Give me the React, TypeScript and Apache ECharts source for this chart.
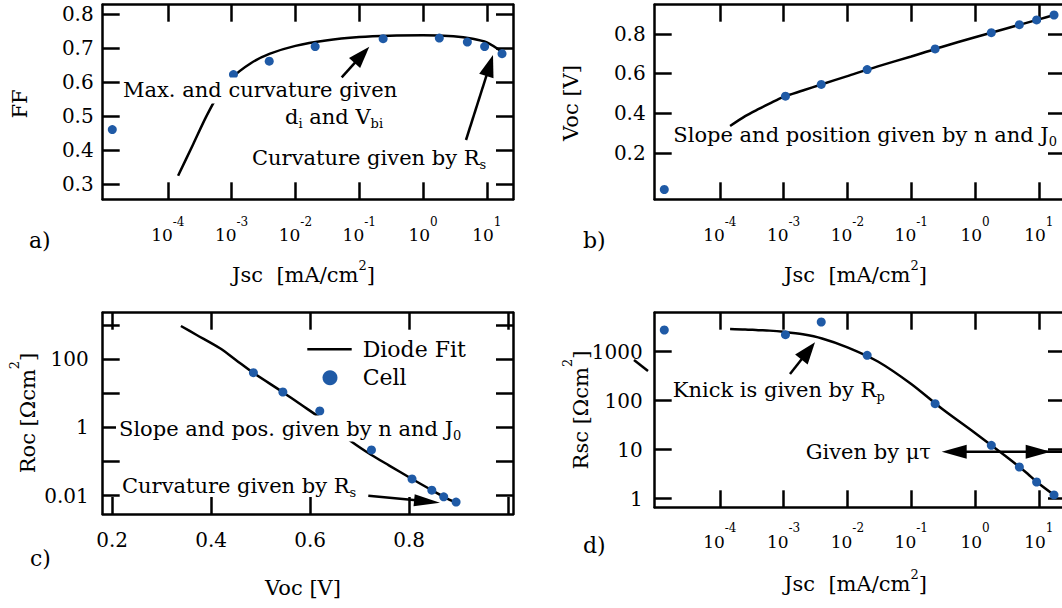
import React, { useEffect, useRef } from 'react';
import * as echarts from 'echarts';

// ---- measured cell data ----
const jscCell = [1.35e-5, 1.07e-3, 3.89e-3, 0.0204, 0.237, 1.8, 4.95, 9.23, 17.3];
const ffCell = [0.46, 0.6215, 0.661, 0.704, 0.727, 0.729, 0.717, 0.704, 0.683];
const vocCell = [0.015, 0.4855, 0.545, 0.6196, 0.724, 0.806, 0.846, 0.87, 0.895];
const rocCell = [null, 40.1, 10.9, 3.03, 0.219, 0.031, 0.0145, 0.0093, 0.0065];
const rscCell = [2775, 2223, 4036, 845, 86.9, 12.3, 4.43, 2.19, 1.19];

// ---- diode fit curves ----
const jscFit = [1.45e-4, 2.5e-4, 4e-4, 6e-4, 1e-3, 2e-3, 4e-3, 1e-2, 3e-2, 0.1, 0.3, 1, 3, 6, 10, 17.3];
const ffFit = [0.324, 0.417, 0.498, 0.558, 0.611, 0.655, 0.683, 0.706, 0.722, 0.732, 0.736, 0.737, 0.734, 0.727, 0.716, 0.688];
const vocFit = [0.335, 0.385, 0.42, 0.448, 0.482, 0.514, 0.546, 0.587, 0.636, 0.686, 0.734, 0.783, 0.826, 0.853, 0.873, 0.895];
const rscFit = [2917, 2851, 2754, 2692, 2541, 2265, 1862, 1230, 631, 219, 69.2, 21.9, 7.41, 3.63, 2.04, 1.19];
const vocFitC = [0.339, 0.37, 0.418, 0.45, 0.485, 0.5445, 0.58, 0.6265, 0.684, 0.724, 0.76, 0.806, 0.846, 0.87, 0.895];
const rocFit = [935, 519, 208, 94.8, 40.1, 10.9, 4.82, 1.65, 0.382, 0.156, 0.0764, 0.0309, 0.0145, 0.0093, 0.00624];

// ---- ticks ----
const jscTicks = [1e-4, 1e-3, 1e-2, 1e-1, 1, 10];
const ffTicks = [0.3, 0.4, 0.5, 0.6, 0.7, 0.8];
const vocTicksB = [0.2, 0.4, 0.6, 0.8];
const vocTicksC = [0.2, 0.4, 0.6, 0.8, 1.0];
const vocLabelsC = [0.2, 0.4, 0.6, 0.8];
const rocTicks = [0.01, 0.1, 1, 10, 100, 1000];
const rocLabels = [0.01, 1, 100];
const rscTicks = [1, 10, 100, 1000];

const L = Math.log10;
const FONT = 'DejaVu Serif';
const BLUE = '#1f5aa6';
const BLACK = '#000';

function axis(gridIndex: number, position: string, min: number, max: number, ticks: number[], labels: number[] | null, labelCfg: any = {}) {
  return {
    type: 'value', gridIndex, position, min, max,
    axisLine: { show: true, onZero: false, lineStyle: { color: BLACK, width: 2.5 } },
    axisTick: { show: true, inside: true, length: 17, customValues: ticks, lineStyle: { color: BLACK, width: 2.5 } },
    axisLabel: labels ? { show: true, customValues: labels, color: BLACK, fontFamily: FONT, fontSize: 20, ...labelCfg } : { show: false },
    splitLine: { show: false },
    axisPointer: { show: false },
  };
}

const supRich = {
  b: { fontSize: 17, lineHeight: 39, fontFamily: FONT, color: BLACK },
  sup: { fontSize: 12, lineHeight: 12, verticalAlign: 'top', fontFamily: FONT, color: BLACK },
};
const logFmt = (v: number) => `{b|10}{sup|${Math.round(v)}}`;

function txt(x: number, y: number, text: string, o: any = {}) {
  return {
    type: 'text', x, y, z: 50, rotation: o.rot || 0,
    style: {
      text, fill: BLACK, fontFamily: FONT, fontSize: o.size || 21,
      align: o.align || 'left', textAlign: o.align || 'left',
      verticalAlign: 'middle', textVerticalAlign: 'middle',
      lineHeight: o.lh || 26,
      backgroundColor: o.bg ? '#fff' : undefined,
      padding: o.bg ? [0, 3] : 0,
      rich: {
        sub: { fontSize: 13, lineHeight: 13, verticalAlign: 'bottom', fontFamily: FONT, fill: BLACK, color: BLACK },
        sup: { fontSize: 13, lineHeight: 13, verticalAlign: 'top', fontFamily: FONT, fill: BLACK, color: BLACK },
      },
    },
  };
}

function arrow(x1: number, y1: number, x2: number, y2: number, hl: number, hw: number) {
  const dx = x2 - x1, dy = y2 - y1, len = Math.hypot(dx, dy);
  const ux = dx / len, uy = dy / len;
  const bx = x2 - ux * hl, by = y2 - uy * hl;
  const px = -uy, py = ux;
  return [
    { type: 'line', z: 60, shape: { x1, y1, x2: bx + ux * 2, y2: by + uy * 2 }, style: { stroke: BLACK, lineWidth: 2.5 } },
    { type: 'polygon', z: 60, shape: { points: [[x2, y2], [bx + px * hw, by + py * hw], [bx - px * hw, by - py * hw]] }, style: { fill: BLACK } },
  ];
}

export default function App() {
  const ref = useRef<HTMLDivElement>(null);
  useEffect(() => {
    document.body.style.margin = '0';
    const chart = echarts.init(ref.current!, null, { renderer: 'svg' });

    const grids = [
      { left: 102.7, top: 4.7, width: 410.3, height: 194.6 },
      { left: 654.7, top: 4.7, width: 410.3, height: 194.6 },
      { left: 102.7, top: 312.7, width: 410.3, height: 201.3 },
      { left: 654.7, top: 312.7, width: 410.3, height: 194.6 },
    ].map(g => ({ ...g, containLabel: false, outerBoundsMode: 'none', show: false }));

    const jMin = -5.02, jMax = 1.41;
    const lj = jscTicks.map(L);
    const xAxis = [
      axis(0, 'bottom', jMin, jMax, lj, lj, { margin: 16.5, formatter: logFmt, rich: supRich }),
      axis(0, 'top', jMin, jMax, lj, null),
      axis(1, 'bottom', jMin, jMax, lj, lj, { margin: 16.5, formatter: logFmt, rich: supRich }),
      axis(1, 'top', jMin, jMax, lj, null),
      axis(2, 'bottom', 0.181, 1.01, vocTicksC, vocLabelsC, { margin: 16, formatter: (v: number) => v.toFixed(1) }),
      axis(2, 'top', 0.181, 1.01, vocTicksC, null),
      axis(3, 'bottom', jMin, jMax, lj, lj, { margin: 15, formatter: logFmt, rich: supRich }),
      axis(3, 'top', jMin, jMax, lj, null),
    ];
    const rocL = rocTicks.map(L);
    const rscL = rscTicks.map(L);
    const rocFmt = (v: number) => {
      const e = Math.round(v);
      return e >= 0 ? String(10 ** e) : (10 ** e).toFixed(-e);
    };
    const yAxis = [
      axis(0, 'left', 0.255, 0.827, ffTicks, ffTicks, { margin: 9, formatter: (v: number) => v.toFixed(1) }),
      axis(0, 'right', 0.255, 0.827, ffTicks, null),
      axis(1, 'left', -0.0345, 0.947, vocTicksB, vocTicksB, { margin: 9, formatter: (v: number) => v.toFixed(1) }),
      axis(1, 'right', -0.0345, 0.947, vocTicksB, null),
      axis(2, 'left', -2.536, 3.36, rocL, rocLabels.map(L), { margin: 14, formatter: rocFmt }),
      axis(2, 'right', -2.536, 3.36, rocL, null),
      axis(3, 'left', -0.176, 3.796, rscL, rscL, { margin: 12, formatter: (v: number) => String(10 ** Math.round(v)) }),
      axis(3, 'right', -0.176, 3.796, rscL, null),
    ];

    const fitLine = (g: number, data: number[][]) => ({
      type: 'line', xAxisIndex: 2 * g, yAxisIndex: 2 * g, data, symbol: 'none', showSymbol: false,
      smooth: 0.3, lineStyle: { color: BLACK, width: 2.5 }, z: 2, silent: true,
    });
    const cells = (g: number, data: number[][]) => ({
      type: 'scatter', xAxisIndex: 2 * g, yAxisIndex: 2 * g, data, symbolSize: 9,
      itemStyle: { color: BLUE, opacity: 1 }, z: 3, silent: true,
    });

    const cData: number[][] = [];
    vocCell.forEach((v, i) => { if (rocCell[i] != null) cData.push([v, L(rocCell[i] as number)]); });

    const series = [
      fitLine(0, jscFit.map((j, i) => [L(j), ffFit[i]])),
      cells(0, jscCell.map((j, i) => [L(j), ffCell[i]])),
      fitLine(1, jscFit.map((j, i) => [L(j), vocFit[i]])),
      cells(1, jscCell.map((j, i) => [L(j), vocCell[i]])),
      fitLine(2, vocFitC.map((v, i) => [v, L(rocFit[i])])),
      cells(2, cData),
      fitLine(3, jscFit.map((j, i) => [L(j), L(rscFit[i])])),
      cells(3, jscCell.map((j, i) => [L(j), L(rscCell[i])])),
    ];

    const elements: any[] = [
      // panel letters
      txt(29, 240, 'a)', { size: 22 }),
      txt(583, 240, 'b)', { size: 22 }),
      txt(30, 558, 'c)', { size: 22 }),
      txt(583, 545, 'd)', { size: 22 }),
      // axis titles
      txt(303.5, 275, 'Jsc  [mA/cm{sup|2}]', { align: 'center', lh: 33 }),
      txt(855.5, 275, 'Jsc  [mA/cm{sup|2}]', { align: 'center', lh: 33 }),
      txt(303, 588, 'Voc [V]', { align: 'center' }),
      txt(855.5, 584, 'Jsc  [mA/cm{sup|2}]', { align: 'center', lh: 33 }),
      txt(19.5, 104, 'FF', { align: 'center', rot: Math.PI / 2 }),
      txt(571, 103, 'Voc [V]', { align: 'center', rot: Math.PI / 2 }),
      txt(28, 413, 'Roc [Ωcm{sup|2}]', { align: 'center', rot: Math.PI / 2, lh: 40 }),
      txt(581, 410, 'Rsc [Ωcm{sup|2}]', { align: 'center', rot: Math.PI / 2, lh: 40 }),
      // panel a annotations
      txt(120, 90.4, 'Max. and curvature given', { bg: true }),
      txt(285, 117, 'd{sub|i} and V{sub|bi}'),
      txt(252, 158.3, 'Curvature given by R{sub|s}'),
      ...arrow(341.7, 77.3, 369.3, 46.7, 22, 7.5),
      ...arrow(466, 140, 493, 55, 22, 7.5),
      // panel b
      txt(673.3, 134.7, 'Slope and position given by n and J{sub|0}'),
      // panel c
      { type: 'line', z: 60, shape: { x1: 307.3, y1: 349.3, x2: 351.7, y2: 349.3 }, style: { stroke: BLACK, lineWidth: 2.5 } },
      txt(362.7, 349, 'Diode Fit', { size: 22 }),
      { type: 'circle', z: 60, shape: { cx: 330, cy: 377.7, r: 7.5 }, style: { fill: BLUE } },
      txt(362.7, 377, 'Cell', { size: 22 }),
      txt(116, 428.5, 'Slope and pos. given by n and J{sub|0}', { bg: true }),
      txt(122, 486, 'Curvature given by R{sub|s}'),
      ...arrow(368.3, 495.7, 440, 502.7, 26, 6),
      // panel d
      txt(672.7, 389.5, 'Knick is given by R{sub|p}'),
      ...arrow(790, 374, 815, 342.3, 22, 8),
      txt(805.7, 451.7, 'Given by μτ'),
      { type: 'line', z: 60, shape: { x1: 960, y1: 451.7, x2: 1066, y2: 451.7 }, style: { stroke: BLACK, lineWidth: 2.5 } },
      { type: 'polygon', z: 60, shape: { points: [[941.7, 451.7], [966.7, 444.7], [966.7, 458.7]] }, style: { fill: BLACK } },
      { type: 'polygon', z: 60, shape: { points: [[1050.7, 451.7], [1025.7, 444.7], [1025.7, 458.7]] }, style: { fill: BLACK } },
      { type: 'line', z: 60, shape: { x1: 634, y1: 360, x2: 648, y2: 371 }, style: { stroke: BLACK, lineWidth: 2.5 } },
    ];

    chart.setOption({
      animation: false,
      backgroundColor: '#fff',
      grid: grids,
      xAxis,
      yAxis,
      series,
      graphic: { elements },
    });
    return () => chart.dispose();
  }, []);
  return <div ref={ref} style={{ width: 1062, height: 608 }} />;
}
